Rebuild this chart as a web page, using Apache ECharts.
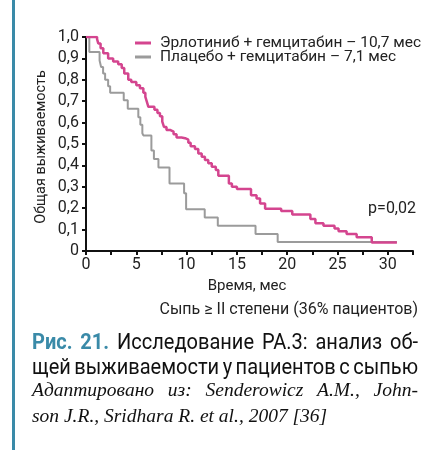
<!DOCTYPE html>
<html>
<head>
<meta charset="utf-8">
<script src="https://cdn.jsdelivr.net/npm/echarts@6/dist/echarts.min.js"></script>
<style>
  html, body { margin: 0; padding: 0; background: #fff; }
  #chart { width: 428px; height: 450px; }
</style>
</head>
<body>
<div id="chart"></div>
<script>
// Kaplan–Meier survival estimates: [month, fraction surviving]
const erlotinibSurvival = [
  [0, 1.0], [1.1, 0.99], [1.22, 0.97], [1.45, 0.947], [1.72, 0.924], [2.2, 0.9],
  [2.7, 0.885], [3.2, 0.873], [3.55, 0.855], [3.8, 0.83], [4.2, 0.80], [4.5, 0.79],
  [5.0, 0.775], [5.36, 0.76], [5.7, 0.74], [5.9, 0.72], [6.03, 0.70], [6.2, 0.674],
  [6.8, 0.66], [7.1, 0.645], [7.35, 0.63], [7.58, 0.605], [7.75, 0.58], [8.0, 0.566],
  [8.35, 0.558], [8.7, 0.545], [9.0, 0.53], [9.5, 0.527], [9.85, 0.52], [10.17, 0.506],
  [10.4, 0.49], [10.83, 0.477], [11.16, 0.456], [11.5, 0.44], [11.82, 0.425],
  [12.15, 0.41], [12.5, 0.394], [12.9, 0.378], [13.15, 0.352], [14.2, 0.315],
  [14.5, 0.30], [15.0, 0.29], [16.4, 0.26], [16.95, 0.245], [17.3, 0.222],
  [17.8, 0.198], [19.4, 0.187], [20.5, 0.17], [22.3, 0.15], [22.8, 0.13],
  [23.6, 0.118], [24.7, 0.105], [25.1, 0.092], [25.9, 0.08], [26.9, 0.064],
  [28.4, 0.04], [30.9, 0.04]
];
const placeboSurvival = [
  [0, 1.0], [0.33, 0.93], [1.35, 0.89], [1.5, 0.86], [1.7, 0.83], [1.9, 0.80],
  [2.2, 0.77], [2.4, 0.74], [3.75, 0.705], [4.15, 0.665], [5.2, 0.625], [5.4, 0.59],
  [5.6, 0.55], [5.7, 0.54], [6.5, 0.47], [6.75, 0.43], [7.2, 0.39], [8.3, 0.315],
  [9.75, 0.27], [9.95, 0.195], [11.8, 0.157], [13.1, 0.118], [16.85, 0.08],
  [19.05, 0.042], [30.9, 0.042]
];
const seriesNames = [
  'Эрлотиниб + гемцитабин – 10,7 мес',
  'Плацебо + гемцитабин – 7,1 мес'
];
const xTicks = { min: 0, max: 32.5, step: 2.5, labelEvery: 5 };
const yTicks = { min: 0, max: 1, step: 0.1 };
const texts = {
  yName: 'Общая выживаемость',
  xName: 'Время, мес',
  subgroup: 'Сыпь ≥ II степени (36% пациентов)',
  pValue: 'p=0,02'
};
// Figure caption, one entry per printed line; words flagged as label are highlighted
const captionLines = [
  [['Рис.', true], ['21.', true], ['Исследование', false], ['РА.3:', false], ['анализ', false], ['об-', false]],
  [['щей', false], ['выживаемости', false], ['у', false], ['пациентов', false], ['с', false], ['сыпью', false]]
];
const sourceLines = [
  { words: ['Адаптировано', 'из:', 'Senderowicz', 'A.M.,', 'John-'], justify: true },
  { words: ['son', 'J.R.,', 'Sridhara', 'R.', 'et', 'al.,', '2007', '[36]'], justify: false }
];

const PINK = '#d4458f';
const GREY = '#9b9b9b';
const TEAL = '#3a8aa8';
const INK = '#222';
const FONT = 'Roboto, "Noto Sans", sans-serif';
const CAPTION_FONT = '22px Roboto, sans-serif';
const CAPTION_BOLD = 'bold 22px Roboto, sans-serif';
const SOURCE_FONT = 'italic 19.5px "Liberation Serif", serif';

const measureCtx = document.createElement('canvas').getContext('2d');
function textWidth(str, font) {
  measureCtx.font = font;
  return measureCtx.measureText(str).width;
}

// Lay out a line of words between two x positions with even gaps (justified text)
function justifiedWords(words, fonts, fills, x0, x1, y, scale, minGap) {
  const widths = words.map((w, i) => textWidth(w, fonts[i]) * scale);
  const total = widths.reduce((a, b) => a + b, 0);
  const gap = Math.max(minGap, (x1 - x0 - total) / (words.length - 1));
  const out = [];
  let x = x0;
  words.forEach((w, i) => {
    out.push({
      type: 'text', x: x, y: y, scaleX: scale, scaleY: 1,
      style: { text: w, font: fonts[i], fill: fills[i], verticalAlign: 'middle' }
    });
    x += widths[i] + gap;
  });
  return out;
}

const captionX0 = 32, captionX1 = 418;
// condense the caption face so the second line fills the measure with tight word gaps
const line2Words = captionLines[1].map(w => w[0]);
const line2Width = line2Words.reduce((s, w) => s + textWidth(w, CAPTION_FONT), 0);
const captionScale = (captionX1 - captionX0 - 3.5 * (line2Words.length - 1)) / line2Width;

const captionGraphics = [];
captionLines.forEach((line, li) => {
  const words = line.map(w => w[0]);
  const fonts = line.map(w => (w[1] ? CAPTION_BOLD : CAPTION_FONT));
  const fills = line.map(w => (w[1] ? TEAL : '#111'));
  captionGraphics.push(...justifiedWords(words, fonts, fills, captionX0, captionX1, 343 + li * 25, captionScale, 2));
});
sourceLines.forEach((line, li) => {
  const fonts = line.words.map(() => SOURCE_FONT);
  const fills = line.words.map(() => '#111');
  const right = line.justify ? captionX1 : 0;
  captionGraphics.push(...justifiedWords(line.words, fonts, fills, captionX0, right, 391 + li * 26, 1, textWidth(' ', SOURCE_FONT)));
});

const chart = echarts.init(document.getElementById('chart'), null, { renderer: 'canvas' });

chart.setOption({
  backgroundColor: '#fff',
  animation: false,
  textStyle: { fontFamily: FONT, color: INK },
  grid: { left: 86, top: 37, width: 327, height: 214, containLabel: false },
  legend: {
    left: 130, top: 30, orient: 'vertical', itemGap: -2,
    icon: 'rect', itemWidth: 16, itemHeight: 3,
    textStyle: { fontFamily: FONT, fontSize: 15.5, color: INK, padding: [0, 0, 0, 4] },
    data: seriesNames
  },
  xAxis: {
    type: 'value', min: xTicks.min, max: xTicks.max, interval: xTicks.step,
    axisLine: { lineStyle: { color: '#111', width: 2 } },
    axisTick: { length: 4, lineStyle: { color: '#111', width: 2 } },
    splitLine: { show: false },
    axisLabel: {
      fontFamily: FONT, fontSize: 16, color: INK, margin: 6, showMaxLabel: true,
      formatter: v => (v % xTicks.labelEvery === 0 ? String(v) : '')
    }
  },
  yAxis: {
    type: 'value', min: yTicks.min, max: yTicks.max, interval: yTicks.step,
    axisLine: { show: true, lineStyle: { color: '#111', width: 2 } },
    axisTick: { show: true, length: 4, lineStyle: { color: '#111', width: 2 } },
    splitLine: { show: false },
    axisLabel: {
      fontFamily: FONT, fontSize: 16, color: INK, margin: 7,
      formatter: v => (v === 0 ? '0' : v.toFixed(1).replace('.', ','))
    }
  },
  series: [
    {
      name: seriesNames[0], type: 'line', step: 'end', data: erlotinibSurvival,
      showSymbol: false, z: 3, color: PINK,
      lineStyle: { color: PINK, width: 2.5 }
    },
    {
      name: seriesNames[1], type: 'line', step: 'end', data: placeboSurvival,
      showSymbol: false, z: 2, color: GREY,
      lineStyle: { color: GREY, width: 2 }
    }
  ],
  graphic: [
    { type: 'rect', shape: { x: 12, y: 0, width: 3, height: 450 }, style: { fill: TEAL } },
    { type: 'text', x: 41, y: 147, rotation: Math.PI / 2, style: { text: texts.yName, font: '14.5px ' + FONT, fill: INK, align: 'center', verticalAlign: 'middle' } },
    { type: 'text', x: 247, y: 286, style: { text: texts.xName, font: '15px ' + FONT, fill: INK, align: 'center', verticalAlign: 'middle' } },
    { type: 'text', x: 418, y: 310, style: { text: texts.subgroup, font: '16px ' + FONT, fill: INK, align: 'right', verticalAlign: 'middle' } },
    { type: 'text', x: 416, y: 209, style: { text: texts.pValue, font: '16px ' + FONT, fill: INK, align: 'right', verticalAlign: 'middle' } },
    ...captionGraphics
  ]
});
</script>
</body>
</html>
